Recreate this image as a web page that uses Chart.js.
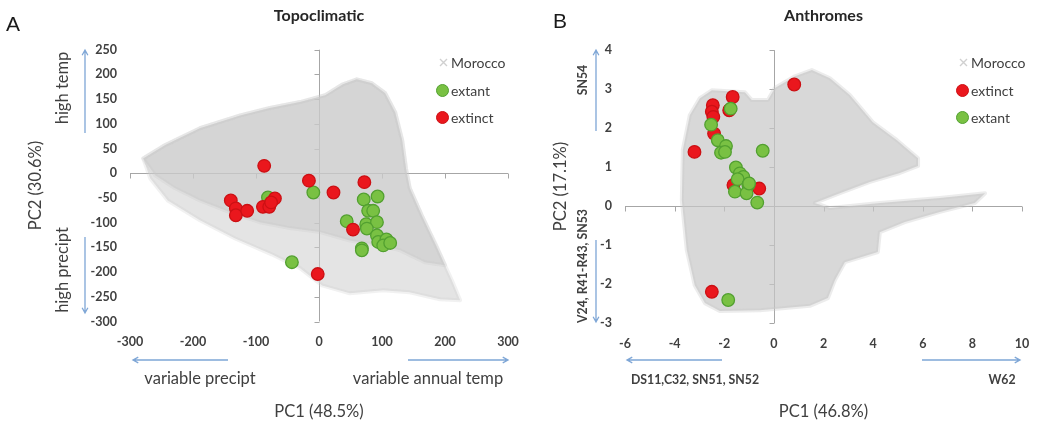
<!DOCTYPE html>
<html>
<head>
<meta charset="utf-8">
<title>Topoclimatic / Anthromes PCA</title>
<script src="https://cdn.jsdelivr.net/npm/chart.js@4.4.1/dist/chart.umd.min.js"></script>
<style>
  html, body { margin: 0; padding: 0; background: #fff; }
  body { width: 1037px; height: 427px; position: relative; overflow: hidden;
         font-family: Lato, "Open Sans", sans-serif; color: #404040; }
  .panel { position: absolute; top: 0; height: 427px; }
  #panelA { left: 0; width: 520px; }
  #panelB { left: 520px; width: 517px; }
  .panel canvas { position: absolute; left: 0; top: 0; }
  .letter { position: absolute; font-family: "Liberation Sans", Arial, sans-serif; font-size: 21px; color: #1a1a1a; }
  .note { position: absolute; white-space: nowrap; transform: translate(-50%, -50%); color: #404040; }
  .note.up { transform: translate(-50%, -50%) rotate(-90deg); }
  .big { font-size: 16.5px; }
  .small { font-size: 12.3px; font-weight: bold; }
  svg.arrows { position: absolute; left: 0; top: 0; pointer-events: none; }
  .legend { position: absolute; font-size: 14px; color: #404040; }
  .legend .item { height: 27.5px; display: flex; align-items: center; white-space: nowrap; }
  .legend .mark { width: 13px; height: 13px; margin-right: 2px; box-sizing: border-box; border-radius: 50%; }
</style>
</head>
<body>
<div class="panel" id="panelA">
  <canvas id="chartA" width="520" height="427"></canvas>
  <div class="letter" style="left:6px;top:12px">A</div>
  <svg class="arrows" width="520" height="427" id="arrowsA"></svg>
  <div class="note up big" style="left:62px;top:88px">high temp</div>
  <div class="note up big" style="left:62px;top:270px">high precipt</div>
  <div class="note big" style="left:200px;top:378px">variable precipt</div>
  <div class="note big" style="left:428px;top:378px">variable annual temp</div>
  <div class="legend" id="legendA" style="left:436px;top:49px"></div>
</div>
<div class="panel" id="panelB">
  <canvas id="chartB" width="517" height="427"></canvas>
  <div class="letter" style="left:33px;top:9px">B</div>
  <svg class="arrows" width="517" height="427" id="arrowsB"></svg>
  <div class="note up small" style="left:62px;top:80px">SN54</div>
  <div class="note up small" style="left:62px;top:266px">V24, R41-R43, SN53</div>
  <div class="note small" style="left:175px;top:379px">DS11,C32, SN51, SN52</div>
  <div class="note small" style="left:482px;top:379px">W62</div>
  <div class="legend" id="legendB" style="left:436px;top:49px"></div>
</div>
<script>
// ---- panel A: Topoclimatic (PC1 48.5%, PC2 30.6%) ----
const topoRangeX = [-300, 300], topoStepX = 100;
const topoRangeY = [-300, 250], topoStepY = 50;

// outline of the grey Morocco cloud (outer, sparse crosses) and its dense core
const topoMorocco = [
  [-279, 30], [-244, 57], [-189, 91], [-125, 117], [-78, 132], [-30, 144], [10, 158],
  [38, 180], [60, 190], [84, 182], [105, 162], [121, 123], [132, 67], [138, 10],
  [144, -30], [163, -85], [189, -156], [211, -217], [224, -257], [192, -255],
  [144, -241], [102, -237], [49, -243], [5, -227], [-30, -192], [-75, -164],
  [-133, -132], [-189, -95], [-240, -55], [-268, -10]
];
const topoMoroccoCore = [
  [-279, 30], [-244, 57], [-189, 91], [-125, 117], [-78, 132], [-30, 144], [10, 158],
  [38, 180], [60, 190], [84, 182], [105, 162], [121, 123], [132, 67], [138, 10],
  [144, -30], [163, -85], [186, -146], [200, -186], [168, -180], [129, -156],
  [97, -146], [49, -136], [2, -119], [-46, -111], [-94, -99], [-141, -79],
  [-189, -55], [-229, -30], [-260, -4]
];
const topoExtant = [
  [-81, -49], [-9, -39], [-43, -180], [71, -53], [93, -47], [78, -76], [86, -76],
  [44, -97], [75, -103], [92, -99], [76, -112], [92, -126], [94, -139], [107, -134],
  [102, -146], [113, -141], [68, -152], [68, -156]
];
const topoExtinct = [
  [-87, 15], [-140, -55], [-132, -71], [-132, -85], [-114, -76], [-89, -68], [-79, -68],
  [-70, -51], [-76, -59], [-16, -15], [23, -39], [72, -18], [54, -114], [-2, -204]
];

// ---- panel B: Anthromes (PC1 46.8%, PC2 17.1%) ----
const anthRangeX = [-6, 10], anthStepX = 2;
const anthRangeY = [-3, 4], anthStepY = 1;

const anthMorocco = [
  [-3.67, 1.44], [-3.39, 2.33], [-2.98, 2.77], [-2.50, 2.97], [-1.17, 2.92], [-0.89, 2.72],
  [-0.24, 2.72], [0.04, 3.03], [0.85, 3.33], [1.53, 3.49], [2.26, 3.28], [3.06, 2.85],
  [3.99, 2.15], [4.96, 1.69], [5.81, 1.23], [5.81, 1.03], [5.08, 0.85], [3.87, 0.62],
  [2.66, 0.33], [1.65, 0.08], [2.26, -0.05], [4.27, 0.08], [6.69, 0.21], [8.51, 0.33],
  [8.10, 0.08], [6.69, -0.15], [5.28, -0.41], [4.27, -0.67], [4.19, -1.18], [2.86, -1.44],
  [2.46, -1.90], [2.18, -2.36], [1.45, -2.56], [-0.56, -2.67], [-2.18, -2.69], [-2.78, -2.49],
  [-3.19, -2.03], [-3.51, -1.13], [-3.71, 0.15]
];
const anthExtinct = [
  [0.82, 3.12], [-1.66, 2.80], [-2.46, 2.59], [-2.50, 2.42], [-2.44, 2.29], [-1.80, 2.46],
  [-2.41, 1.86], [-3.20, 1.39], [-1.63, 0.54], [-0.59, 0.45], [-2.50, -2.20]
];
const anthExtant = [
  [-1.74, 2.50], [-2.53, 2.09], [-2.26, 1.69], [-1.93, 1.54], [-2.13, 1.37], [-1.97, 1.39],
  [-0.45, 1.42], [-1.53, 0.99], [-1.37, 0.84], [-1.23, 0.75], [-1.46, 0.69], [-1.03, 0.54],
  [-1.57, 0.37], [-1.10, 0.33], [-0.67, 0.09], [-1.00, 0.58], [-1.84, -2.41]
];

const FONT = 'Lato, "Open Sans", sans-serif';
const TEXT = '#404040';
const GREEN = '#79c143', GREEN_EDGE = '#52a030';
const RED = '#ea171d', RED_EDGE = '#cc1014';

const toXY = arr => arr.map(p => ({ x: p[0], y: p[1] }));

// lines through the origin, Excel style, with small tick marks
const zeroAxes = {
  id: 'zeroAxes',
  beforeDatasetsDraw(chart) {
    const { ctx, chartArea: a, scales: { x, y } } = chart;
    const x0 = Math.round(x.getPixelForValue(0)) + 0.5;
    const y0 = Math.round(y.getPixelForValue(0)) + 0.5;
    ctx.save();
    ctx.strokeStyle = '#a6a6a6';
    ctx.lineWidth = 1;
    ctx.beginPath();
    ctx.moveTo(a.left, y0); ctx.lineTo(a.right, y0);
    ctx.moveTo(x0, a.top); ctx.lineTo(x0, a.bottom);
    x.ticks.forEach(t => {
      const px = Math.round(x.getPixelForValue(t.value)) + 0.5;
      ctx.moveTo(px, y0); ctx.lineTo(px, y0 + 5);
    });
    y.ticks.forEach(t => {
      const py = Math.round(y.getPixelForValue(t.value)) + 0.5;
      ctx.moveTo(x0 - 5, py); ctx.lineTo(x0, py);
    });
    ctx.stroke();
    ctx.restore();
  }
};

// fills each Morocco outline using the points the scales placed
const cloudFill = {
  id: 'cloudFill',
  beforeDatasetsDraw(chart) {
    const ctx = chart.ctx;
    chart.data.datasets.forEach((ds, i) => {
      if (!ds.cloud) return;
      const pts = chart.getDatasetMeta(i).data;
      ctx.save();
      ctx.beginPath();
      pts.forEach((p, k) => k ? ctx.lineTo(p.x, p.y) : ctx.moveTo(p.x, p.y));
      ctx.closePath();
      ctx.fillStyle = ds.cloud;
      ctx.fill();
      ctx.lineJoin = 'round';
      ctx.lineWidth = 4;
      ctx.strokeStyle = ds.cloud;
      ctx.globalAlpha = 0.5;
      ctx.stroke();
      ctx.restore();
    });
  }
};

function makeChart(id, c) {
  const datasets = [
    { label: 'Morocco', data: toXY(c.cloud), cloud: 'rgba(205,205,205,0.55)', order: 4,
      pointStyle: 'crossRot', pointRadius: 0, pointHoverRadius: 0,
      backgroundColor: '#c8c8c8', borderColor: '#c8c8c8' },
    { label: 'extant', data: toXY(c.extant), order: c.extantOrder,
      pointRadius: 6.3, pointHoverRadius: 6.3, borderWidth: 1.3,
      backgroundColor: GREEN, borderColor: GREEN_EDGE },
    { label: 'extinct', data: toXY(c.extinct), order: c.extinctOrder,
      pointRadius: 6.3, pointHoverRadius: 6.3, borderWidth: 1.3,
      backgroundColor: RED, borderColor: RED_EDGE }
  ];
  if (c.core) {
    datasets.splice(1, 0, { label: 'Morocco core', data: toXY(c.core), cloud: 'rgba(200,200,200,0.55)', order: 3,
      pointRadius: 0, pointHoverRadius: 0 });
  } else {
    datasets[0].cloud = 'rgba(200,200,200,0.7)';
  }
  // tick gap is set through tickLength (padding would also widen the side margins)
  const tickFont = { family: FONT, size: 12.5, weight: 'bold' };
  return new Chart(document.getElementById(id), {
    type: 'scatter',
    data: { datasets },
    options: {
      responsive: false,
      animation: false,
      layout: { padding: { left: 0, right: c.padRight, top: 0, bottom: 0 } },
      plugins: {
        legend: { display: false },
        tooltip: { enabled: false },
        title: {
          display: true, text: c.title, fullSize: false, color: '#262626',
          font: { family: FONT, size: 16, weight: 'bold' },
          padding: { top: 6.5, bottom: c.titleGap }
        }
      },
      scales: {
        x: {
          type: 'linear', min: c.rangeX[0], max: c.rangeX[1],
          ticks: { stepSize: c.stepX, padding: 0, color: TEXT, font: tickFont },
          grid: { display: false, drawTicks: true, tickLength: 13 },
          border: { display: false },
          title: { display: true, text: c.xTitle, color: TEXT, font: { family: FONT, size: 16.5 }, padding: { top: 0, bottom: 5 } },
          afterFit: s => { s.height = c.xAxisHeight; }
        },
        y: {
          type: 'linear', min: c.rangeY[0], max: c.rangeY[1],
          ticks: { stepSize: c.stepY, padding: 0, color: TEXT, font: tickFont },
          grid: { display: false, drawTicks: true, tickLength: 13 },
          border: { display: false },
          title: { display: true, text: c.yTitle, color: TEXT, font: { family: FONT, size: 16.5 }, padding: { top: c.yTitlePad, bottom: 0 } },
          afterFit: s => { s.width = c.yAxisWidth; }
        }
      }
    },
    plugins: [zeroAxes, cloudFill]
  });
}

function buildLegend(chart, elId, order) {
  const box = document.getElementById(elId);
  order.forEach(label => {
    const ds = chart.data.datasets.find(d => d.label === label);
    const item = document.createElement('div');
    item.className = 'item';
    let mark;
    if (ds.cloud) {
      mark = document.createElementNS('http://www.w3.org/2000/svg', 'svg');
      mark.setAttribute('width', '15'); mark.setAttribute('height', '13');
      mark.innerHTML = '<path d="M4 3 L11 10 M11 3 L4 10" stroke="#d0d0d0" stroke-width="1.4"/>';
    } else {
      mark = document.createElement('span');
      mark.className = 'mark';
      mark.style.background = ds.backgroundColor;
      mark.style.border = '1.3px solid ' + ds.borderColor;
    }
    item.appendChild(mark);
    const txt = document.createElement('span');
    txt.textContent = label;
    item.appendChild(txt);
    box.appendChild(item);
  });
}

function drawArrows(svgId, arrows) {
  const svg = document.getElementById(svgId);
  let html = '';
  arrows.forEach(([x1, y1, x2, y2]) => {
    const ang = Math.atan2(y2 - y1, x2 - x1), h = 6;
    const ax = x2 - h * Math.cos(ang - 0.5), ay = y2 - h * Math.sin(ang - 0.5);
    const bx = x2 - h * Math.cos(ang + 0.5), by = y2 - h * Math.sin(ang + 0.5);
    html += `<path d="M${x1} ${y1} L${x2} ${y2} M${ax} ${ay} L${x2} ${y2} L${bx} ${by}" fill="none" stroke="#7ea6d6" stroke-width="1.3"/>`;
  });
  svg.innerHTML = html;
}

const chartA = makeChart('chartA', {
  title: 'Topoclimatic', xTitle: 'PC1 (48.5%)', yTitle: 'PC2 (30.6%)',
  rangeX: topoRangeX, stepX: topoStepX, rangeY: topoRangeY, stepY: topoStepY,
  cloud: topoMorocco, core: topoMoroccoCore, extant: topoExtant, extinct: topoExtinct,
  extantOrder: 2, extinctOrder: 1,
  padRight: 12, titleGap: 24, xAxisHeight: 105.5, yAxisWidth: 130, yTitlePad: 26
});
const chartB = makeChart('chartB', {
  title: 'Anthromes', xTitle: 'PC1 (46.8%)', yTitle: 'PC2 (17.1%)',
  rangeX: anthRangeX, stepX: anthStepX, rangeY: anthRangeY, stepY: anthStepY,
  cloud: anthMorocco, extant: anthExtant, extinct: anthExtinct,
  extantOrder: 1, extinctOrder: 2,
  padRight: 15, titleGap: 24.5, xAxisHeight: 104, yAxisWidth: 105, yTitlePad: 31
});

buildLegend(chartA, 'legendA', ['Morocco', 'extant', 'extinct']);
buildLegend(chartB, 'legendB', ['Morocco', 'extinct', 'extant']);

drawArrows('arrowsA', [[85, 133, 85, 50], [85, 237, 85, 313], [228, 360, 133, 360], [408, 360, 508, 360]]);
drawArrows('arrowsB', [[76, 131, 76, 50], [76, 240, 76, 322], [202, 360, 107, 360], [402, 360, 500, 360]]);
</script>
</body>
</html>
